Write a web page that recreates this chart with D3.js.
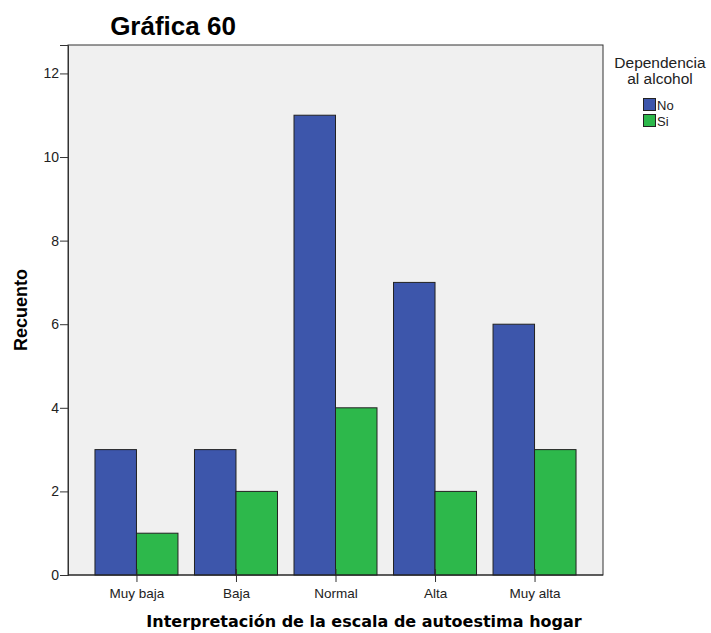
<!DOCTYPE html>
<html>
<head>
<meta charset="utf-8">
<script src="https://cdn.jsdelivr.net/npm/d3@7"></script>
<style>
  body { margin: 0; background: #fff; }
  svg { display: block; }
</style>
</head>
<body>
<script>
// Recuento por interpretación de autoestima hogar, según dependencia al alcohol
const categories = ["Muy baja", "Baja", "Normal", "Alta", "Muy alta"];
const seriesNames = ["No", "Si"];
const valuesNo = [3, 3, 11, 7, 6];
const valuesSi = [1, 2, 4, 2, 3];
const yTicks = [0, 2, 4, 6, 8, 10, 12];
const colors = ["#3d56ab", "#2db84b"];

const W = 711, H = 633;
const plot = { left: 68, right: 603, top: 45, bottom: 575 };
const FONT = "Arial, 'Liberation Sans', sans-serif";

const svg = d3.select("body").append("svg").attr("width", W).attr("height", H);

const x = d3.scalePoint().domain(categories).range([plot.left, plot.right]).padding(0.688);
const y = d3.scaleLinear().domain([0, 12.68]).range([plot.bottom, plot.top]);
const barW = 41.5;

// plot background
svg.append("rect")
  .attr("x", plot.left).attr("y", plot.top)
  .attr("width", plot.right - plot.left).attr("height", plot.bottom - plot.top)
  .attr("fill", "#f0f0f0").attr("stroke", "#333").attr("stroke-width", 1);

// bars
const rows = categories.map((c, i) => ({ cat: c, vals: [valuesNo[i], valuesSi[i]] }));
rows.forEach(r => {
  r.vals.forEach((v, j) => {
    const x0 = x(r.cat) + (j === 0 ? -barW : 0);
    svg.append("rect")
      .attr("x", x0).attr("y", y(v))
      .attr("width", barW).attr("height", y(0) - y(v))
      .attr("fill", colors[j])
      .attr("stroke", "#222").attr("stroke-width", 1);
  });
});

// y axis
const yAxis = d3.axisLeft(y).tickValues(yTicks).tickSize(8).tickPadding(1).tickFormat(d3.format("d"));
const gy = svg.append("g").attr("transform", `translate(${plot.left},0)`).call(yAxis);
gy.select(".domain").attr("stroke", "#333");
gy.selectAll(".tick line").attr("stroke", "#333");
gy.selectAll(".tick text").attr("font-family", FONT)
  .attr("font-size", 14).attr("fill", "#222");

// x axis
const xAxis = d3.axisBottom(x).tickSize(7).tickPadding(6);
const gx = svg.append("g").attr("transform", `translate(0,${plot.bottom})`).call(xAxis);
gx.select(".domain").remove();
gx.selectAll(".tick line").attr("stroke", "#333").attr("y1", -6);
gx.selectAll(".tick text").attr("font-family", FONT)
  .attr("font-size", 13.5).attr("fill", "#222");

// baseline
svg.append("line").attr("x1", plot.left).attr("x2", plot.right)
  .attr("y1", y(0)).attr("y2", y(0)).attr("stroke", "#222");

// title
svg.append("text").attr("x", 173).attr("y", 35).attr("text-anchor", "middle")
  .attr("font-family", FONT).attr("font-weight", "bold")
  .attr("font-size", 26).attr("fill", "#000").text("Gráfica 60");

// axis titles
svg.append("text").attr("transform", "translate(27,310) rotate(-90)").attr("text-anchor", "middle")
  .attr("font-family", FONT).attr("font-weight", "bold")
  .attr("font-size", 18).attr("fill", "#000").text("Recuento");

svg.append("text").attr("x", 364).attr("y", 627).attr("text-anchor", "middle")
  .attr("font-family", "'DejaVu Sans', sans-serif").attr("font-weight", "bold")
  .attr("font-size", 16).attr("fill", "#000").text("Interpretación de la escala de autoestima hogar");

// legend
const lg = svg.append("g");
lg.append("text").attr("x", 660).attr("y", 68).attr("text-anchor", "middle")
  .attr("font-family", FONT).attr("font-size", 15.5).attr("fill", "#222")
  .text("Dependencia");
lg.append("text").attr("x", 660).attr("y", 84).attr("text-anchor", "middle")
  .attr("font-family", FONT).attr("font-size", 15.5).attr("fill", "#222")
  .text("al alcohol");
seriesNames.forEach((s, j) => {
  const yy = 98 + j * 16;
  lg.append("rect").attr("x", 643.5).attr("y", yy + 0.5).attr("width", 12).attr("height", 12)
    .attr("fill", colors[j]).attr("stroke", "#222");
  lg.append("text").attr("x", 657).attr("y", yy + 12)
    .attr("font-family", FONT).attr("font-size", 13).attr("fill", "#222")
    .text(s);
});
</script>
</body>
</html>
